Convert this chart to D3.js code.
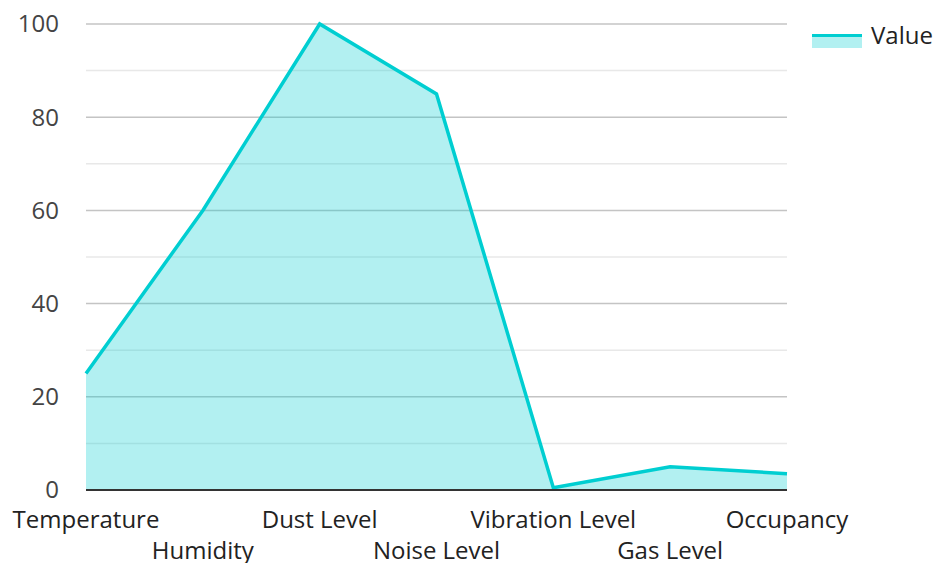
<!DOCTYPE html>
<html><head><meta charset="utf-8">
<script src="https://cdn.jsdelivr.net/npm/d3@7"></script>
<style>body{margin:0;background:#fff}svg{display:block}text{font-family:"Open Sans",sans-serif}</style>
</head><body><svg id="c" width="936" height="563"></svg>
<script>
const categories = ["Temperature","Humidity","Dust Level","Noise Level","Vibration Level","Gas Level","Occupancy"];
const values = [25, 60, 100, 85, 0.5, 5, 3.5];
const yTicks = [0, 20, 40, 60, 80, 100];
const minorTicks = [10, 30, 50, 70, 90];
const seriesName = "Value";

const svg = d3.select("#c");
const L = 86, R = 787, T = 24, B = 490;
const x = d3.scalePoint().domain(categories).range([L, R]);
const y = d3.scaleLinear().domain([0, 100]).range([B, T]);
const color = "#00CED1";

svg.append("g").selectAll("line").data(minorTicks).join("line")
  .attr("x1", L).attr("x2", R).attr("y1", d => y(d)).attr("y2", d => y(d))
  .attr("stroke", "#e8e8e8").attr("stroke-width", 1.5);
svg.append("g").selectAll("line").data(yTicks.filter(d => d > 0)).join("line")
  .attr("x1", L).attr("x2", R).attr("y1", d => y(d)).attr("y2", d => y(d))
  .attr("stroke", "#c4c4c4").attr("stroke-width", 1.5);

const data = categories.map((c, i) => ({c, v: values[i]}));
svg.append("path").datum(data)
  .attr("d", d3.area().x(d => x(d.c)).y0(y(0)).y1(d => y(d.v)))
  .attr("fill", color).attr("fill-opacity", 0.3);
svg.append("path").datum(data)
  .attr("d", d3.line().x(d => x(d.c)).y(d => y(d.v)))
  .attr("fill", "none").attr("stroke", color).attr("stroke-width", 3.5).attr("stroke-linejoin", "miter");

svg.append("line").attr("x1", L).attr("x2", R).attr("y1", B).attr("y2", B)
  .attr("stroke", "#333").attr("stroke-width", 2);

svg.append("g").selectAll("text").data(yTicks).join("text")
  .attr("x", 59).attr("y", d => y(d)).attr("dy", "0.35em").attr("text-anchor", "end")
  .attr("font-size", 24).attr("fill", "#444").text(d => d);

svg.append("g").selectAll("text").data(categories).join("text")
  .attr("x", d => x(d)).attr("y", (d, i) => i % 2 === 0 ? 528 : 559)
  .attr("text-anchor", "middle").attr("font-size", 24).attr("fill", "#222").text(d => d);

const lg = svg.append("g");
lg.append("rect").attr("x", 812).attr("y", 34).attr("width", 50).attr("height", 14).attr("fill", color).attr("fill-opacity", 0.3);
lg.append("line").attr("x1", 812).attr("x2", 862).attr("y1", 35.5).attr("y2", 35.5).attr("stroke", color).attr("stroke-width", 3);
lg.append("text").attr("x", 871).attr("y", 36).attr("dy", "0.35em").attr("font-size", 24).attr("fill", "#222").text(seriesName);
</script></body></html>
